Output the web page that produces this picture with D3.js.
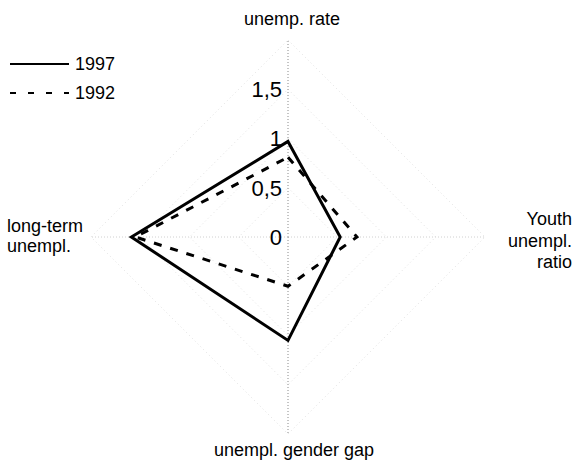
<!DOCTYPE html>
<html>
<head>
<meta charset="utf-8">
<script src="https://cdn.jsdelivr.net/npm/d3@7"></script>
<style>
  body { margin: 0; background: #fff; }
  svg { display: block; font-family: "Liberation Sans", Arial, sans-serif; }
</style>
</head>
<body>
<div id="chart"></div>
<script>
// axes, clockwise from the top
var axes = ['unemp. rate', 'Youth unempl. ratio', 'unempl. gender gap', 'long-term unempl.']
var years = ['1997', '1992']
var values1997 = [0.97, 0.53, 1.05, 1.59]
var values1992 = [0.81, 0.70, 0.50, 1.55]
var ticks = [0, 0.5, 1, 1.5, 2]
var tickLabels = ['0', '0,5', '1', '1,5', '']

var width = 577, height = 463
var cx = 288, cy = 237

var svg = d3.select('#chart').append('svg')
  .attr('width', width)
  .attr('height', height)

var r = d3.scaleLinear().domain([0, 2]).range([0, 197])

function pt(i, v) {
  var a = i * 2 * Math.PI / axes.length
  return [cx + r(v) * Math.sin(a), cy - r(v) * Math.cos(a)]
}

var line = d3.line().curve(d3.curveLinearClosed)

// faint grid rings (barely visible in the scan)
svg.append('g').selectAll('path')
  .data(ticks.filter(t => t > 0))
  .enter().append('path')
    .attr('d', t => line(axes.map((a, i) => pt(i, t))))
    .attr('fill', 'none')
    .attr('stroke', '#e2e2e2')
    .attr('stroke-width', 1)
    .attr('stroke-dasharray', '1,3')

// spokes
svg.append('g').selectAll('line')
  .data(axes)
  .enter().append('line')
    .attr('x1', cx).attr('y1', cy)
    .attr('x2', (d, i) => pt(i, 2)[0])
    .attr('y2', (d, i) => pt(i, 2)[1])
    .attr('stroke', (d, i) => i % 2 == 0 ? '#8a8a8a' : '#d0d0d0')
    .attr('stroke-width', 1)
    .attr('stroke-dasharray', '1,2')

// tick labels on the top spoke
svg.append('g').selectAll('text')
  .data(ticks)
  .enter().append('text')
    .attr('x', 282)
    .attr('y', d => cy - r(d))
    .attr('dy', '0.36em')
    .attr('text-anchor', 'end')
    .style('font-size', '22px')
    .text((d, i) => tickLabels[i])

// series
var series = [
  {name: years[0], values: values1997, dash: null},
  {name: years[1], values: values1992, dash: '8,9'}
]

svg.append('g').selectAll('path')
  .data(series)
  .enter().append('path')
    .attr('d', s => line(s.values.map((v, i) => pt(i, v))))
    .attr('fill', 'none')
    .attr('stroke', '#000')
    .attr('stroke-width', 3)
    .attr('stroke-linejoin', 'miter')
    .attr('stroke-dasharray', s => s.dash)

// axis titles
var titles = svg.append('g').style('font-size', '18px')

titles.append('text').attr('x', 292).attr('y', 25).attr('text-anchor', 'middle').text(axes[0])
titles.append('text').attr('x', 294).attr('y', 456).attr('text-anchor', 'middle').text(axes[2])

var left = titles.append('text').attr('x', 7).attr('y', 232)
left.append('tspan').attr('x', 7).text('long-term')
left.append('tspan').attr('x', 7).attr('dy', 20).text('unempl.')

var right = titles.append('text').attr('x', 572).attr('y', 225).attr('text-anchor', 'end')
right.append('tspan').attr('x', 572).text('Youth')
right.append('tspan').attr('x', 572).attr('dy', 21.5).text('unempl.')
right.append('tspan').attr('x', 572).attr('dy', 21.5).text('ratio')

// legend
var legend = svg.append('g')
series.forEach(function(s, i) {
  var y = 64 + i * 29
  legend.append('line')
    .attr('x1', 10).attr('x2', 69)
    .attr('y1', y).attr('y2', y)
    .attr('stroke', '#000')
    .attr('stroke-width', 2.2)
    .attr('stroke-dasharray', s.dash ? '6,12' : null)
  legend.append('text')
    .attr('x', 75).attr('y', y)
    .attr('dy', '0.36em')
    .style('font-size', '18px')
    .text(s.name)
})
</script>
</body>
</html>
